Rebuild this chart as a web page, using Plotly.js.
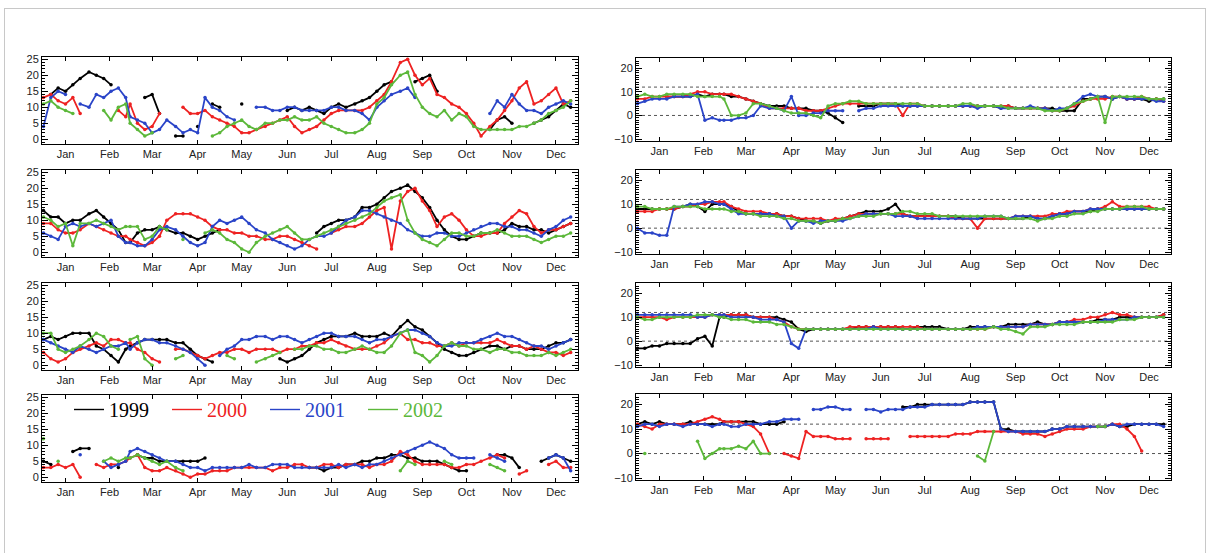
<!DOCTYPE html>
<html><head><meta charset="utf-8">
<script src="https://cdn.plot.ly/plotly-3.0.1.min.js"></script>
<style>
body{margin:0;background:#fff;}
#chart{position:absolute;left:0;top:0;width:1212px;height:553px;}
#frame{position:absolute;left:4px;top:8px;width:1200px;height:560px;border:1px solid #c8c8c8;pointer-events:none;}
</style></head>
<body><div id="chart"></div><div id="frame"></div>
<script>
// ---------- data ----------
const days = [1,6,11,16,21,26, 32,37,42,47,52,57, 60,65,70,75,80,85, 91,96,101,106,111,116,
  121,126,131,136,141,146, 152,157,162,167,172,177, 182,187,192,197,202,207, 213,218,223,228,233,238,
  244,249,254,259,264,269, 274,279,284,289,294,299, 305,310,315,320,325,330, 335,340,345,350,355,360];
const months = ['Jan','Feb','Mar','Apr','May','Jun','Jul','Aug','Sep','Oct','Nov','Dec'];
const monthTickDays = [16,46,75,106,136,167,197,228,259,289,320,350];
const years = ['1999','2000','2001','2002'];
const leftTicks = [0,5,10,15,20,25];
const rightTicks = [-10,0,10,20];
const refLevels = [0,12];
const _ = null;

// left column, panel 1
const L1_1999 = [_,14,16,15,17,19, 21,20,19,17,_,_, _,_,13,14,8,_, 1,1,_,4,_,11, 10,_,_,11,_,_, _,_,_,9,10,9, 10,9,8,10,11,10, 11,12,13,15,17,18, _,_,18,19,20,15, _,_,_,_,_,_, 3,6,7,5,_,_, 5,6,7,9,11,10];
const L1_2000 = [13,14,12,11,13,8, _,_,_,_,9,7, 11,5,3,4,8,_, _,10,8,8,9,7, 6,5,4,2,2,3, 4,5,6,7,4,2, 3,4,6,8,9,9, 9,9,10,12,14,18, 24,25,20,17,19,14, 13,11,10,8,5,1, 4,6,9,12,16,18, 11,12,14,16,11,12];
const L1_2001 = [4,13,15,14,_,11, 10,14,13,15,16,13, 7,6,5,2,3,6, 4,2,3,2,13,10, 9,7,6,_,_,10, 10,9,9,10,10,9, 9,9,9,10,10,9, 9,8,6,10,12,14, 15,16,13,_,_,_, _,_,_,_,_,_, 8,12,10,14,11,9, 9,8,10,11,12,11];
const L1_2002 = [11,12,10,9,8,_, _,_,9,6,10,11, 5,3,1,2,_,_, _,_,_,_,_,1, 2,4,5,6,4,3, 5,5,6,6,7,6, 6,7,5,4,3,2, 2,3,5,11,13,17, 20,21,14,10,8,7, 9,6,8,7,4,3, 3,3,3,3,4,4, 5,6,8,9,10,12];
// left column, panel 2
const L2_1999 = [13,11,11,9,10,10, 12,13,11,9,7,3, 3,6,7,7,8,7, 6,6,5,4,5,6, 7,_,_,_,_,_, _,_,_,_,_,_, _,6,8,9,10,10, 11,14,14,15,17,19, 20,21,19,17,14,10, 7,5,4,4,5,6, 6,6,7,9,8,8, 7,7,6,7,8,9];
const L2_2000 = [9,9,7,6,6,7, 9,8,7,6,5,5, 4,3,2,3,5,10, 12,12,12,11,10,8, 7,7,6,6,5,5, 4,4,5,5,4,3, 2,1,_,6,7,8, 8,9,11,13,14,1, 16,19,20,16,13,8, 11,12,10,7,5,5, 6,6,9,11,13,12, 8,6,7,7,8,9];
const L2_2001 = [6,5,4,8,9,8, 9,8,9,10,5,3, 3,2,2,4,7,8, 7,5,3,2,3,8, 10,9,10,11,9,7, 6,4,3,2,1,2, 4,5,5,6,8,10, 11,13,13,12,11,10, 9,7,6,5,5,6, 6,5,5,6,7,8, 9,9,8,8,7,7, 6,5,7,8,10,11];
const L2_2002 = [11,10,8,9,2,9, 9,10,9,8,7,8, 8,8,4,5,8,7, _,4,_,_,6,7, 6,4,3,1,0,3, 5,6,7,8,6,4, 4,5,6,7,8,9, 10,11,12,14,16,17, 18,10,6,4,3,2, 4,6,6,5,5,6, 6,7,6,5,5,5, 4,3,4,5,5,6];
// left column, panel 3
const L3_1999 = [8,9,8,9,10,10, 10,6,5,3,1,5, 6,7,8,8,8,8, 7,7,5,3,2,1, _,_,_,_,_,_, _,_,2,1,2,3, 5,7,8,9,9,9, 10,9,9,9,10,9, 12,14,12,11,9,7, 5,4,3,3,4,5, 6,6,5,6,6,5, 5,5,6,7,7,8];
const L3_2000 = [4,2,1,2,4,5, 6,7,6,8,8,7, 7,5,4,2,1,_, 5,5,4,3,2,3, 4,4,5,5,4,5, 5,5,4,5,5,6, 6,7,7,8,7,6, 5,5,5,6,7,9, 10,8,8,7,7,6, 6,7,6,7,7,7, 7,8,7,6,6,5, 6,5,4,4,3,4];
const L3_2001 = [8,7,6,5,4,6, 5,4,5,6,6,7, 5,7,8,8,7,7, 6,5,4,2,0,_, 3,5,6,8,8,9, 9,8,9,9,8,7, 8,9,10,10,9,9, 9,8,7,8,8,9, 10,11,11,10,9,7, 6,6,7,7,7,8, 9,10,9,9,8,7, 6,6,5,6,7,8];
const L3_2002 = [10,10,5,4,5,6, 8,10,9,6,5,_, 8,9,2,0,_,_, 2,3,_,_,_,_, _,3,2,_,_,1, 2,3,4,_,5,5, 6,6,5,5,4,4, 5,6,5,4,4,6, 10,11,4,3,1,3, 6,7,6,6,5,5, 4,5,5,4,4,3, 3,3,4,3,4,5];
// left column, panel 4
const L4_1999 = [5,4,_,_,8,9, 9,_,_,_,3,_, _,7,6,6,5,5, 5,5,5,5,6,_, _,_,_,_,_,_, _,_,_,_,_,_, 3,3,2,3,3,4, 4,5,5,6,6,7, 7,6,6,5,5,5, 4,3,2,2,_,_, _,7,7,6,3,_, _,5,6,7,6,5];
const L4_2000 = [3,3,4,3,4,0, _,4,3,4,4,5, 6,7,3,2,2,3, 2,1,0,1,1,2, 2,2,3,3,3,3, 3,2,3,3,4,4, 3,3,4,4,3,4, 4,4,3,4,4,5, 8,7,5,4,4,4, 4,3,3,4,4,5, 6,7,6,_,1,2, _,_,4,5,3,3];
const L4_2001 = [_,_,_,_,_,7, _,_,5,3,4,5, 8,9,8,7,6,5, 5,4,3,3,2,3, 3,3,3,3,4,3, 3,4,4,4,3,3, 3,3,3,3,4,3, 4,3,4,4,5,6, 7,8,9,10,11,10, 9,7,6,6,6,_, 7,6,5,_,_,_, _,_,6,7,6,2];
const L4_2002 = [12,_,5,_,_,_, _,_,5,6,5,6, 6,7,6,5,4,5, 3,2,_,_,_,_, _,_,_,_,_,_, _,_,_,_,_,_, _,_,_,_,_,_, _,_,_,_,_,_, 2,5,4,_,_,_, 5,4,_,_,_,_, 4,3,2,_,_,_, _,_,_,_,_,_];
// right column, panel 1
const R1_1999 = [_,_,_,_,8,8, 8,8,9,8,9,9, 9,8,8,7,6,5, 4,4,4,3,3,3, 2,2,1,-1,-3,_, 4,4,4,5,5,5, 4,4,4,4,4,4, 4,4,4,4,4,4, 4,3,4,3,3,3, 3,3,3,2,2,2, 7,7,8,8,7,8, 7,7,7,6,7,7];
const R1_2000 = [7,7,8,8,8,8, 8,9,10,10,9,9, 9,9,8,7,6,5, 3,3,3,3,3,2, 2,2,3,4,5,5, 5,5,5,5,5,5, 0,5,5,4,4,4, 4,4,4,4,4,4, 4,4,4,3,3,3, 3,3,2,2,3,4, 6,7,7,7,8,8, 7,7,8,7,7,6];
const R1_2001 = [5,6,7,7,7,8, 8,8,9,-2,-1,-2, -2,-2,-1,-1,0,4, 3,3,2,8,0,0, 1,1,2,2,2,_, 2,3,3,4,4,4, 4,4,4,4,4,4, 4,4,4,4,3,4, 4,3,3,3,3,4, 3,3,2,3,3,5, 8,9,8,8,7,8, 7,7,7,7,6,6];
const R1_2002 = [8,9,8,8,9,9, 9,9,8,8,8,8, 7,0,0,1,5,5, 4,3,2,1,1,1, 0,-1,4,5,5,6, 6,5,5,5,5,5, 5,5,5,4,4,4, 4,4,5,5,4,4, 4,4,3,3,3,3, 3,2,2,2,3,5, 6,7,8,-3,8,8, 8,8,8,7,7,7];
// right column, panel 2
const R2_1999 = [8,8,8,8,8,8, 9,10,9,7,10,10, 10,9,7,6,6,6, 6,6,5,5,4,3, 3,2,3,3,4,5, 6,7,7,7,8,10, 6,5,5,5,5,5, 5,5,4,4,4,4, 4,4,4,4,4,5, 4,4,5,6,6,7, 7,7,8,8,8,8, 8,8,8,8,8,8];
const R2_2000 = [7,7,7,8,8,8, 9,9,10,10,11,11, 11,9,8,7,7,7, 6,6,5,5,4,4, 4,4,3,4,4,5, 6,6,6,6,6,6, 6,5,5,5,5,5, 5,4,4,4,0,4, 4,4,4,5,5,5, 5,5,6,6,7,7, 7,8,8,9,11,9, 9,9,9,9,8,8];
const R2_2001 = [0,-2,-2,-3,-3,9, 9,10,10,11,11,10, 10,8,6,6,6,6, 6,5,5,0,3,3, 2,3,3,3,3,4, 5,6,6,6,6,5, 5,5,4,4,4,4, 4,4,4,4,4,5, 5,5,4,5,5,5, 4,4,5,6,6,7, 7,8,8,8,8,8, 8,8,8,8,8,8];
const R2_2002 = [9,9,8,8,8,9, 9,9,9,8,8,8, 8,7,7,6,6,5, 5,5,4,4,3,3, 3,2,3,3,4,4, 5,5,5,6,6,6, 7,7,6,6,6,5, 5,5,5,5,5,5, 5,5,4,4,4,4, 3,4,4,5,5,6, 6,7,7,8,8,8, 9,9,9,8,8,8];
// right column, panel 3
const R3_1999 = [-3,-3,-2,-2,-1,-1, -1,-1,1,2,-2,10, 10,11,11,11,10,10, 10,10,9,8,5,4, 5,5,5,5,5,5, 6,6,6,6,6,6, 5,5,6,6,6,6, 5,5,5,6,6,6, 6,6,7,7,7,7, 8,7,7,8,8,8, 8,8,9,9,9,10, 10,10,10,10,10,11];
const R3_2000 = [10,10,10,10,9,10, 10,10,10,10,11,11, 11,11,11,11,10,10, 10,9,8,6,5,5, 5,5,5,5,5,6, 6,6,6,6,6,6, 6,6,6,5,5,5, 5,5,5,5,5,5, 6,6,6,6,6,7, 7,7,7,8,8,9, 9,10,10,11,12,11, 11,10,10,10,10,11];
const R3_2001 = [11,11,11,11,11,11, 11,11,10,10,11,11, 11,10,10,10,10,9, 9,9,8,-1,-3,5, 5,5,5,5,5,5, 5,5,6,5,5,5, 5,5,5,5,5,5, 5,5,5,5,6,6, 6,6,6,6,6,7, 7,7,7,8,8,8, 8,8,8,9,9,9, 9,10,10,10,10,10];
const R3_2002 = [10,9,9,10,10,10, 10,10,11,11,11,10, 10,9,9,9,8,8, 8,7,7,6,5,5, 5,5,5,5,5,5, 5,5,5,5,5,5, 5,5,5,5,5,5, 5,5,5,5,5,5, 6,5,5,4,3,6, 6,6,7,7,7,7, 8,8,8,8,8,9, 9,9,10,10,10,10];
// right column, panel 4
const R4_1999 = [12,13,12,13,12,12, 12,13,12,12,12,12, 13,13,13,13,13,12, 12,12,13,_,_,_, _,_,_,_,_,_, _,_,_,_,_,_, 19,19,20,20,20,20, 20,20,20,21,21,21, 21,10,10,9,9,9, 9,9,10,10,11,11, 11,11,11,11,12,11, 11,12,12,12,12,12];
const R4_2000 = [12,11,10,12,12,12, 12,12,13,14,15,14, 13,13,13,12,11,8, 0,_,0,-1,-2,9, 7,7,7,6,6,6, _,6,6,6,6,_, _,7,7,7,7,7, 7,8,8,8,9,9, 9,9,9,9,8,8, 8,7,8,9,10,10, 10,11,11,11,12,12, 10,7,1,_,_,_];
const R4_2001 = [11,12,12,11,12,12, 11,12,12,12,11,12, 12,11,11,12,12,12, 13,13,14,14,14,_, 18,18,19,19,18,18, _,18,18,17,18,18, 18,19,19,19,20,20, 20,20,20,21,21,21, 21,10,9,9,9,9, 9,9,10,10,11,11, 11,11,11,11,12,11, 12,12,12,12,12,11];
const R4_2002 = [_,0,_,_,_,_, _,_,5,-2,0,2, 2,2,3,2,5,0, 0,_,_,_,_,_, _,_,_,_,_,_, _,_,_,_,_,_, _,_,_,_,_,_, _,_,_,_,-1,-3, 9,_,_,_,_,_, _,_,_,_,_,_, _,_,11,11,_,_, _,_,_,_,_,_];

// ---------- build ----------
const colors = ['#000000','#ee2222','#2a44c8','#5cb83a'];
const panels = [
  [L1_1999,L1_2000,L1_2001,L1_2002],[L2_1999,L2_2000,L2_2001,L2_2002],
  [L3_1999,L3_2000,L3_2001,L3_2002],[L4_1999,L4_2000,L4_2001,L4_2002],
  [R1_1999,R1_2000,R1_2001,R1_2002],[R2_1999,R2_2000,R2_2001,R2_2002],
  [R3_1999,R3_2000,R3_2001,R3_2002],[R4_1999,R4_2000,R4_2001,R4_2002]
];
const W=1212, H=553;
const leftX=[42,578], rightX=[636,1171];
const rows=[[57,144],[170,257],[283,370],[395,482]];
const rrows=[[58,141],[170,254],[283,367],[394,480]];
const tickFont={family:'Liberation Sans, Arial, sans-serif',size:11,color:'#222'};

const traces=[]; const layout={width:W,height:H,margin:{l:0,r:0,t:0,b:0},paper_bgcolor:'#fff',plot_bgcolor:'#fff',
  font:{family:'Liberation Sans, Arial, sans-serif'},showlegend:true,shapes:[]};
panels.forEach((series,pi)=>{
  const n=pi+1, sx=n===1?'':String(n);
  const isLeft=pi<4, r=pi%4;
  const xd=isLeft?leftX:rightX, yd=isLeft?rows[r]:rrows[r];
  layout['xaxis'+sx]={domain:[xd[0]/W,xd[1]/W],range:[0,365],tickvals:monthTickDays,ticktext:months,
    ticks:'inside',ticklen:4,tickcolor:'#000',mirror:'ticks',showline:true,linecolor:'#000',linewidth:1,
    showgrid:false,zeroline:false,tickfont:tickFont,anchor:'y'+sx,fixedrange:true};
  layout['yaxis'+sx]={domain:[1-yd[1]/H,1-yd[0]/H],range:isLeft?[-1.5,25.7]:[-10.8,24.3],
    tickvals:isLeft?leftTicks:rightTicks,ticks:'inside',ticklen:6,tickcolor:'#000',
    minor:{dtick:1,tick0:0,ticklen:3,ticks:'inside',tickcolor:'#000',showgrid:false},
    mirror:'ticks',showline:true,linecolor:'#000',linewidth:1,showgrid:false,zeroline:false,
    tickfont:tickFont,anchor:'x'+sx,fixedrange:true};
  if(!isLeft){
    refLevels.forEach(v=>layout.shapes.push({type:'line',xref:'x'+sx+' domain',x0:0,x1:1,yref:'y'+sx,y0:v,y1:v,
      line:{color:'#555',width:1,dash:'dot'},layer:'below'}));
  }
  series.forEach((ys,k)=>{
    traces.push({x:days,y:ys,xaxis:'x'+sx,yaxis:'y'+sx,type:'scatter',mode:'lines+markers',
      line:{color:colors[k],width:1.8},marker:{color:colors[k],size:3.5},connectgaps:false,
      showlegend:false,hoverinfo:'skip'});
  });
});
// legend entries
years.forEach((yr,k)=>{
  traces.push({x:[null],y:[null],xaxis:'x4',yaxis:'y4',type:'scatter',mode:'lines',
    line:{color:colors[k],width:1.4},name:'<span style="color:'+colors[k]+'">'+yr+'</span>',showlegend:true});
});
layout.legend={orientation:'h',x:69/W,y:1-390/H,xanchor:'left',yanchor:'top',bgcolor:'rgba(0,0,0,0)',
  font:{family:'Liberation Serif, Times New Roman, serif',size:20},entrywidth:53,itemclick:false,itemdoubleclick:false};
Plotly.newPlot('chart',traces,layout,{staticPlot:true,displayModeBar:false});
</script>
</body></html>
